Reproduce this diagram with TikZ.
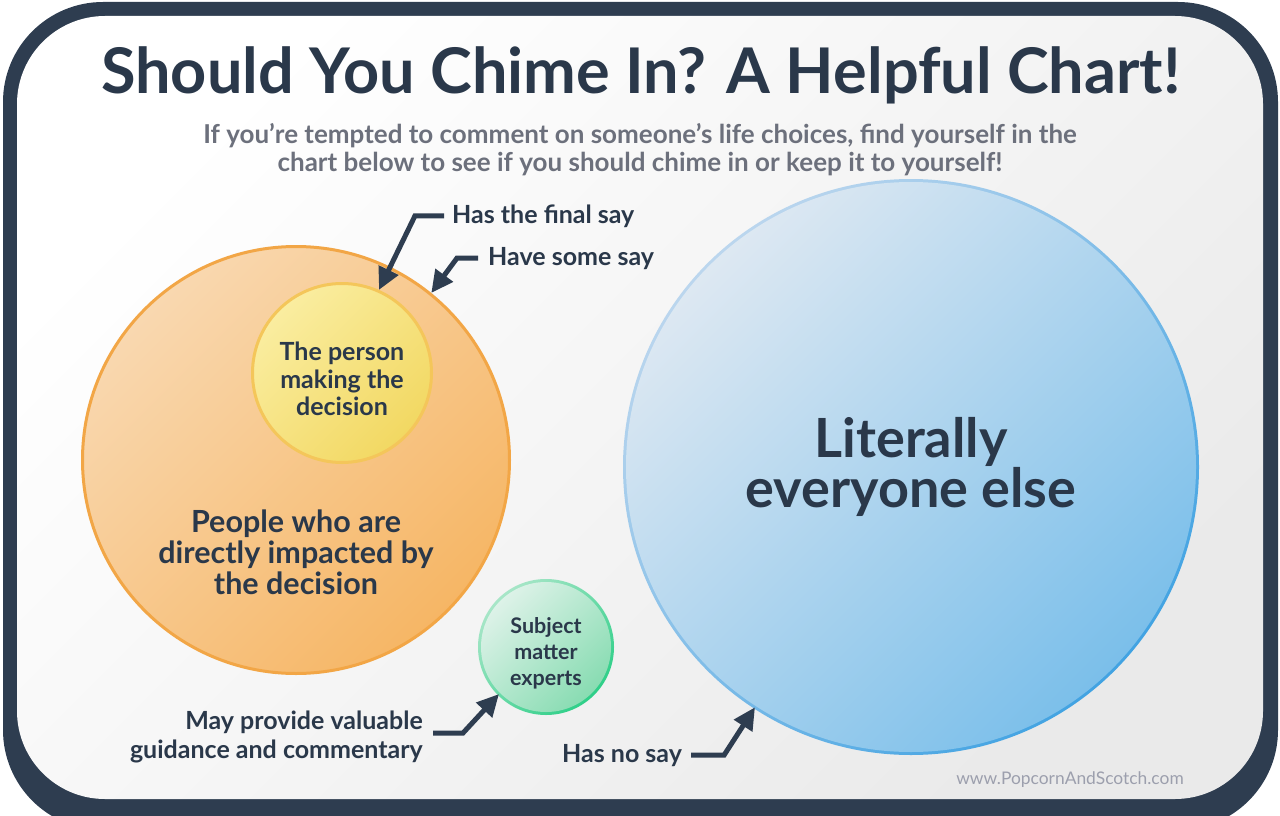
\documentclass[tikz,border=0pt]{standalone}
\usepackage{fontspec}
\setmainfont{Lato}
\usetikzlibrary{arrows.meta,positioning}
\definecolor{frame}{HTML}{2E3D50}
\definecolor{ink}{HTML}{2A384A}
\definecolor{subgray}{HTML}{6C707C}
\definecolor{webgray}{HTML}{9C9FAD}
\definecolor{bggray}{HTML}{EAEAEA}
\definecolor{orangelight}{HTML}{F9D8B0}
\definecolor{orangedark}{HTML}{F6B665}
\definecolor{orangeline}{HTML}{F2A646}
\definecolor{yellowlight}{HTML}{FAEDA0}
\definecolor{yellowdark}{HTML}{F2D862}
\definecolor{yellowline}{HTML}{F4C65A}
\definecolor{greenlight}{HTML}{DDF2E8}
\definecolor{greendark}{HTML}{88DCB2}
\definecolor{greenrimlight}{HTML}{A8E6C8}
\definecolor{greenrimdark}{HTML}{2ECF88}
\definecolor{bluelight}{HTML}{DDE8F2}
\definecolor{bluedark}{HTML}{7BBFEA}
\definecolor{bluerimlight}{HTML}{BBD6EE}
\definecolor{bluerimdark}{HTML}{42A3E2}

\begin{document}
\begin{tikzpicture}[x=1pt,y=-1pt,>=Triangle,
group circle/.style={circle,line width=3pt,inner sep=0pt,align=center,text=ink,shading angle=45},
circle text/.style={align=center,text=ink,inner sep=0pt},
pointer/.style={-{Triangle[length=22pt,width=21pt]},line width=5pt,draw=frame,line join=miter},
say label/.style={inner sep=0pt,text=ink,font=\fontsize{25}{29}\selectfont\bfseries}]
\useasboundingbox (0,0) rectangle (1280,816);
% frame and paper
\fill[white] (0,0) rectangle (1280,816);
\fill[frame,rounded corners=100pt] (3,2) rectangle (1278,830);
\shade[rounded corners=88pt,top color=white,bottom color=bggray,shading angle=45] (17,16) rectangle (1263,799);
% headings
\node[anchor=base,text=ink,inner sep=0pt,font=\fontsize{63}{65}\selectfont\bfseries] (title) at (641,93) {Should You Chime In? A Helpful Chart!};
\node[align=center,text=subgray,inner sep=0pt,font=\fontsize{26}{28}\selectfont\bfseries] (subtitle) at (640,150)
  {If you’re tempted to comment on someone’s life choices, find yourself in the\\chart below to see if you should chime in or keep it to yourself!};
% rims
\shade[top color=greenrimlight,bottom color=greenrimdark,shading angle=45] (546,647) circle[radius=68];
\shade[top color=bluerimlight,bottom color=bluerimdark,shading angle=45] (911,467) circle[radius=288];
% circles
\node[group circle,draw=orangeline,top color=orangelight,bottom color=orangedark,shading angle=45,minimum size=427pt] (impacted) at (296,460) {};
\node[group circle,draw=yellowline,top color=yellowlight,bottom color=yellowdark,shading angle=45,minimum size=179pt] (person) at (342,373) {};
\node[group circle,top color=greenlight,bottom color=greendark,shading angle=45,minimum size=130pt] (experts) at (546,647) {};
\node[group circle,top color=bluelight,bottom color=bluedark,shading angle=45,minimum size=570pt] (everyone) at (911,467) {};
% circle texts
\node[circle text,font=\fontsize{25}{27.5}\selectfont\bfseries] (persontext) at (342,379) {The person\\making the\\decision};
\node[circle text,font=\fontsize{30.5}{31}\selectfont\bfseries] (impacttext) at (296,552) {People who are\\directly impacted by\\the decision};
\node[circle text,font=\fontsize{21.5}{26}\selectfont\bfseries] (expertstext) at (546,653) {Subject\\matter\\experts};
\node[circle text,font=\fontsize{54}{48}\selectfont\bfseries] (everyonetext) at (911,467) {Literally\\everyone else};
% labels
\node[say label,anchor=base west] (finalsay) at (452,223) {Has the final say};
\node[say label,anchor=base west] (somesay) at (488,265) {Have some say};
\node[say label,anchor=east,align=right] (guidance) at (423,737) {May provide valuable\\guidance and commentary};
\node[say label,anchor=base west] (nosay) at (562,762) {Has no say};
\node[anchor=base,inner sep=0pt,text=webgray,font=\fontsize{17.4}{20}\selectfont] (website) at (1070,784) {www.PopcornAndScotch.com};
% pointers
\draw[pointer] ([xshift=-8pt]finalsay.west) -- ++(-29,0) -- (person.66);
\draw[pointer] ([xshift=-10pt]somesay.west) -- ++(-21,0) -- (impacted.51);
\draw[pointer] ([xshift=10pt,yshift=4pt]guidance.east) -- ++(30,0) -- (experts.225);
\draw[pointer] ([xshift=9pt]nosay.east) -- ++(33,0) -- (everyone.237);
\end{tikzpicture}
\end{document}
